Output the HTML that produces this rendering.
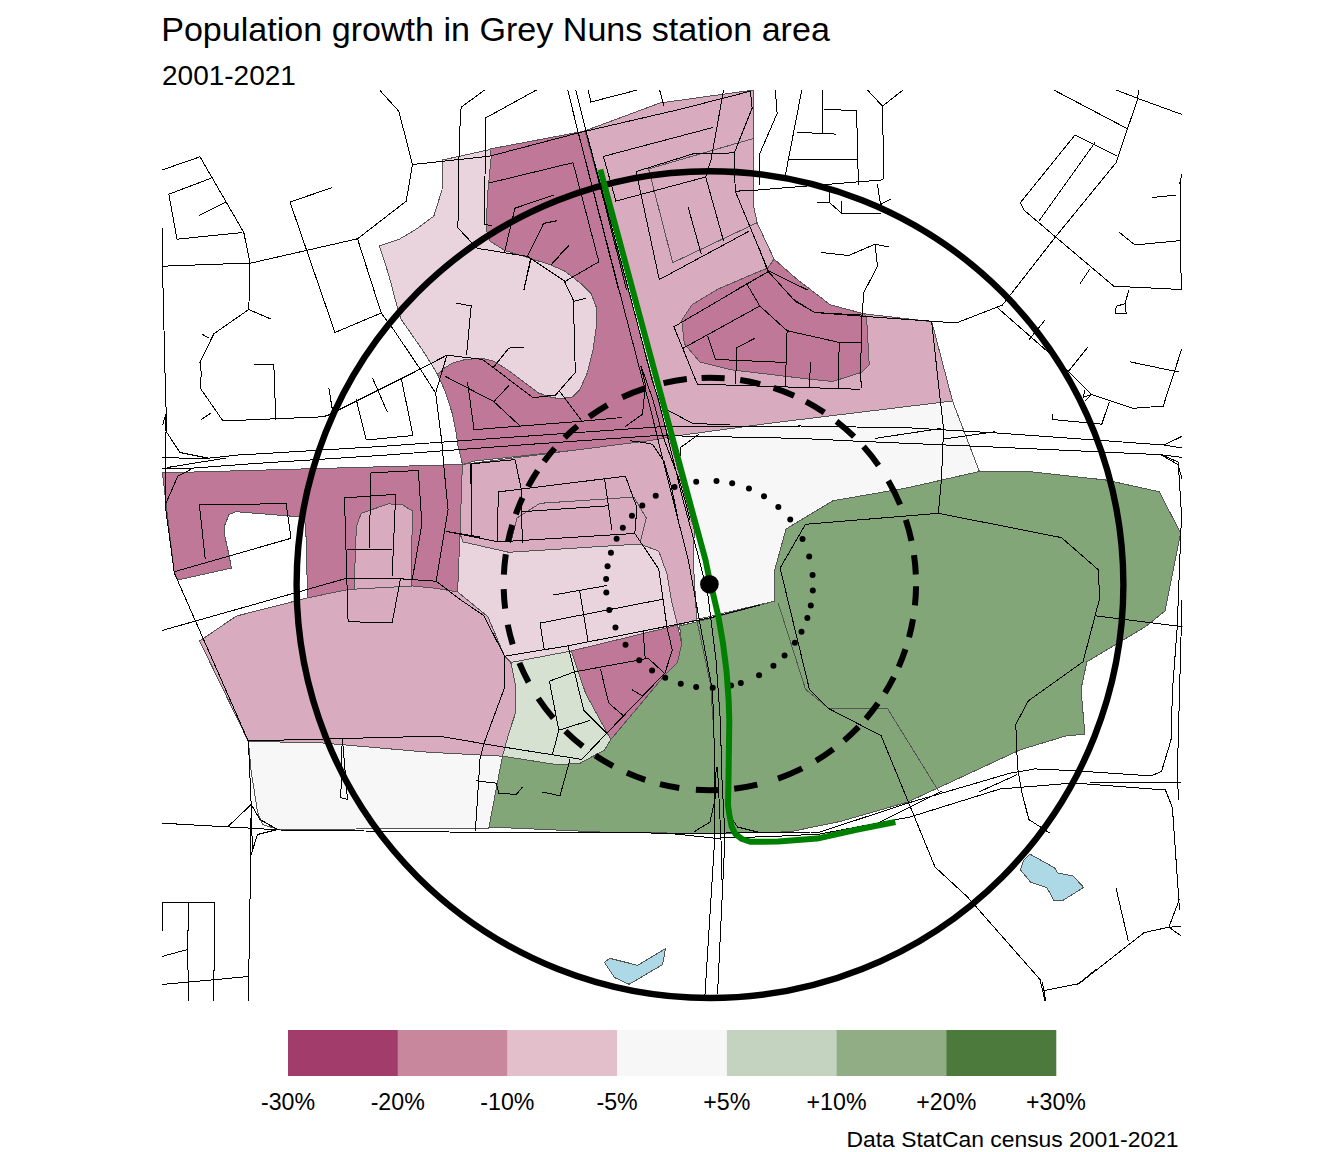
<!DOCTYPE html>
<html><head><meta charset="utf-8"><style>
html,body{margin:0;padding:0;background:#fff;}
body{width:1344px;height:1152px;overflow:hidden;position:relative;}
svg{position:absolute;left:0;top:0;}
text{font-family:"Liberation Sans",Arial,sans-serif;fill:#000;}
.lt{font-size:23.2px;}
</style></head><body>
<svg width="1344" height="1152" viewBox="0 0 1344 1152">
<text x="161.2" y="41" style="font-size:34.1px">Population growth in Grey Nuns station area</text>
<text x="162" y="85" style="font-size:28px">2001-2021</text>
<text x="1178.6" y="1146.5" text-anchor="end" style="font-size:22.9px">Data StatCan census 2001-2021</text>
<defs><clipPath id="mc"><rect x="162" y="90" width="1020.5" height="911"/></clipPath></defs>
<g clip-path="url(#mc)">
<polygon points="490.0,149.0 585.0,131.0 669.0,440.0 650.0,442.0 475.0,461.0 462.5,464.5 458.0,446.0 456.0,432.0 452.5,414.0 445.0,391.0 437.5,374.4 480.0,300.0 486.0,230.0 487.5,195.0" fill="#c07898" stroke="#555555" stroke-width="1" shape-rendering="crispEdges"/>
<polygon points="490.0,149.5 442.5,160.0 442.0,190.0 433.8,216.2 415.0,230.0 399.0,239.4 379.4,245.9 388.8,275.0 396.2,303.1 400.9,319.0 409.4,331.2 422.5,350.0 431.9,365.0 437.5,374.4 443.1,368.8 452.5,363.1 465.6,359.4 482.5,358.4 493.8,361.2 508.8,370.6 523.8,381.9 538.8,393.1 550.0,396.9 559.4,398.8 572.5,396.9 580.0,389.4 587.5,372.5 593.1,350.0 596.0,329.4 596.9,308.8 591.2,293.8 581.9,284.4 565.0,271.2 550.0,264.7 529.4,258.1 505.0,250.6 490.0,241.2 486.2,230.0 487.5,195.0 491.2,157.5" fill="#e9d3dc" stroke="#555555" stroke-width="1" shape-rendering="crispEdges"/>
<polygon points="585.0,130.8 660.0,103.0 753.8,90.0 753.8,207.5 757.5,223.8 774.1,259.1 796.2,278.6 830.1,304.7 864.0,313.8 931.7,321.6 952.5,401.0 770.2,423.2 673.9,436.2" fill="#d9abbe" stroke="#555555" stroke-width="1" shape-rendering="crispEdges"/>
<polygon points="774.1,259.1 796.2,278.6 830.1,304.7 864.0,313.8 866.6,317.7 869.2,364.6 861.4,372.4 832.7,381.5 806.7,378.9 775.4,375.0 731.1,369.8 699.9,362.0 684.3,343.8 681.7,320.3 692.1,304.7 718.1,289.0 754.6,273.4 767.6,268.2" fill="#c07898" stroke="#555555" stroke-width="1" shape-rendering="crispEdges"/>
<polygon points="162.4,472.9 462.4,464.5 460.0,533.6 457.6,591.9 436.2,588.3 412.4,586.0 348.1,589.5 307.6,597.9 305.7,524.0 300.5,516.9 236.2,511.7 229.0,514.5 224.3,526.4 224.8,536.0 229.0,555.0 231.4,568.1 177.9,580.0 174.3,572.9" fill="#c07898" stroke="#555555" stroke-width="1" shape-rendering="crispEdges"/>
<polygon points="361.2,513.3 388.6,503.8 402.9,505.0 412.4,511.0 411.2,586.0 354.0,589.5 356.4,526.4" fill="#d9abbe" stroke="#555555" stroke-width="1" shape-rendering="crispEdges"/>
<polygon points="673.9,436.2 770.2,423.2 952.5,401.0 979.4,471.5 907.1,487.9 832.9,500.8 786.0,529.0 774.2,572.0 774.2,601.2 700.0,618.8 696.2,617.9 692.1,565.8 685.8,524.2 677.5,488.8 669.2,467.9 660.8,451.2 654.6,443.3" fill="#f7f7f7" stroke="#555555" stroke-width="1" shape-rendering="crispEdges"/>
<polygon points="462.4,464.5 648.3,440.8 669.3,437.2 694.3,530.0 693.2,560.0 696.7,619.7 677.5,625.2 671.2,599.2 667.1,574.2 658.8,551.2 640.0,544.0 508.8,552.3 462.9,541.9 460.0,533.6" fill="#d9abbe" stroke="#555555" stroke-width="1" shape-rendering="crispEdges"/>
<polygon points="462.9,541.9 508.8,552.3 640.0,544.0 658.8,551.2 667.1,574.2 671.2,599.2 677.5,625.2 571.2,651.0 510.8,662.5 504.6,656.2 487.9,616.7 457.6,591.9 460.0,533.6" fill="#e9d3dc" stroke="#555555" stroke-width="1" shape-rendering="crispEdges"/>
<polygon points="199.6,641.0 236.3,616.1 307.6,597.9 348.1,589.5 412.4,586.0 436.2,588.3 457.6,591.9 487.9,616.7 504.6,656.2 510.8,662.5 516.0,687.5 515.0,714.6 508.8,733.3 502.5,756.2 427.9,752.2 320.7,742.8 248.4,741.4" fill="#d9abbe" stroke="#555555" stroke-width="1" shape-rendering="crispEdges"/>
<polygon points="248.4,741.4 320.7,742.8 427.9,752.2 502.5,756.2 489.0,827.0 488.2,828.5 277.9,829.3 262.5,824.5 257.5,812.0 251.0,770.0" fill="#f7f7f7" stroke="#555555" stroke-width="1" shape-rendering="crispEdges"/>
<polygon points="510.8,662.5 571.2,651.0 585.8,693.8 610.8,739.6 604.6,750.0 579.6,763.5 556.7,764.6 502.5,756.2 508.8,733.3 515.0,714.6 516.0,687.5" fill="#d6e1d2" stroke="#555555" stroke-width="1" shape-rendering="crispEdges"/>
<polygon points="571.2,651.0 677.5,625.2 681.7,643.8 677.5,662.5 665.0,675.0 610.8,739.6 585.8,693.8" fill="#c07898" stroke="#555555" stroke-width="1" shape-rendering="crispEdges"/>
<polygon points="489.0,827.0 502.5,756.2 556.7,764.6 579.6,763.5 604.6,750.0 610.8,739.6 665.0,675.0 677.5,662.5 681.7,643.8 679.6,626.0 712.9,617.7 774.2,601.2 774.2,572.0 786.0,529.0 832.9,500.8 907.1,487.9 979.4,471.5 1028.3,471.5 1106.4,480.1 1159.2,491.8 1180.6,532.9 1165.0,611.0 1145.5,626.6 1086.9,661.8 1081.0,689.2 1084.9,734.1 1065.4,736.1 1020.4,749.7 965.7,775.1 907.0,802.3 840.0,821.5 789.9,831.8 739.1,833.0 700.0,833.5 600.0,832.0" fill="#83a679" stroke="#555555" stroke-width="1" shape-rendering="crispEdges"/>
<polygon points="1030.1,854.2 1054.7,867.9 1057.8,873.0 1073.4,876.1 1083.6,887.4 1062.5,900.7 1053.9,900.3 1046.9,887.8 1030.5,882.0 1020.3,869.8 1023.4,860.5" fill="#add8e6" stroke="#555555" stroke-width="1" shape-rendering="crispEdges"/>
<polygon points="604.5,962.4 609.7,958.3 637.6,965.3 665.5,948.6 662.5,964.6 629.1,984.3 614.6,977.6" fill="#add8e6" stroke="#555555" stroke-width="1" shape-rendering="crispEdges"/>
<g fill="none" stroke="#555555" stroke-width="1" shape-rendering="crispEdges">
<polyline points="648.6,168.9 672.7,262.7 757.5,222.5"/>
<polyline points="648.6,168.9 753.0,138.6"/>
<polyline points="510.8,542.9 517.1,517.9 540.0,503.3 633.8,497.1 646.2,517.9 640.0,542.9"/>
<polyline points="693.2,560.0 696.7,619.7 710.6,685.0 713.0,720.0"/>
<polyline points="778.2,603.2 805.5,689.2 829.0,708.7 887.6,708.7 938.4,790.8"/>
</g>
<g fill="none" stroke="#000" stroke-width="1" stroke-linejoin="miter" shape-rendering="crispEdges">
<polyline points="380.0,90.5 398.8,111.2 412.5,164.5 406.2,201.2 357.5,238.8 251.2,263.0 162.5,266.2"/>
<polyline points="412.5,164.5 440.0,161.6 490.0,156.1 580.0,132.5 680.0,109.3 750.4,91.2 752.1,108.2 734.3,152.9 735.2,191.2 753.0,190.4 881.2,180.0 883.8,178.8 882.5,106.2 867.5,90.0"/>
<polyline points="357.5,238.8 381.2,313.0 335.0,332.5 290.0,202.0 332.5,187.5"/>
<polyline points="381.2,313.0 391.2,326.2 422.5,372.5"/>
<polyline points="162.0,170.0 200.0,156.8 243.8,232.5 250.0,263.0 248.8,309.5 213.8,333.8 200.0,362.5 201.2,373.0 200.5,388.5 223.0,421.0 322.5,416.8 327.5,415.5"/>
<polyline points="211.2,178.2 168.8,194.2 177.0,239.2 242.5,232.5"/>
<polyline points="226.2,202.0 198.8,215.5"/>
<polyline points="248.8,309.5 271.2,319.2"/>
<polyline points="202.5,334.5 208.8,338.0"/>
<polyline points="253.8,364.5 273.8,364.5 275.8,420.0"/>
<polyline points="162.5,228.0 162.5,266.2 165.0,372.5 166.2,413.0 162.5,425.5"/>
<polyline points="484.6,90.0 461.1,107.3 459.3,137.7 457.9,227.9 472.1,243.0 477.5,248.4 527.5,256.4 565.0,281.4 598.9,261.8 573.0,162.7 489.1,183.0"/>
<polyline points="536.4,90.0 485.5,118.0 484.6,224.3 491.8,226.0"/>
<polyline points="567.7,90.0 578.4,133.2 618.6,290.0"/>
<polyline points="575.7,90.0 586.4,132.3 626.6,290.0"/>
<polyline points="588.2,90.0 590.9,102.0 637.3,90.0"/>
<polyline points="659.6,90.0 664.1,106.4"/>
<polyline points="712.9,127.5 603.4,156.4 615.9,201.1 705.7,177.0 723.6,241.2"/>
<polyline points="723.6,90.0 711.0,160.0 705.7,177.0"/>
<polyline points="734.3,152.9 693.2,153.8 636.1,171.6 659.3,279.6 748.6,231.4"/>
<polyline points="515.0,208.2 554.3,194.8"/>
<polyline points="515.0,208.2 504.3,252.9"/>
<polyline points="557.0,220.7 543.6,223.4 527.5,256.4"/>
<polyline points="568.6,245.7 550.7,265.4"/>
<polyline points="531.0,259.1 523.9,290.0"/>
<polyline points="687.9,206.4 701.2,253.8"/>
<polyline points="735.2,191.2 768.2,270.7 807.5,290.0"/>
<polyline points="775.4,90.0 777.1,113.6 759.3,154.6 759.3,185.0"/>
<polyline points="801.8,90.0 785.2,176.0"/>
<polyline points="787.9,159.1 858.4,159.1"/>
<polyline points="822.7,90.0 822.7,133.2"/>
<polyline points="796.8,132.3 836.1,134.1"/>
<polyline points="824.5,109.1 856.6,110.9 858.4,185.0"/>
<polyline points="882.5,106.2 903.0,90.0"/>
<polyline points="877.5,184.5 880.5,204.5 891.2,198.8"/>
<polyline points="816.2,202.0 829.5,202.5 841.2,213.0 881.2,213.0"/>
<polyline points="841.2,201.2 841.2,213.0"/>
<polyline points="829.5,202.5 829.5,190.0"/>
<polyline points="821.2,252.5 848.8,255.5 875.0,244.2 888.8,247.0"/>
<polyline points="875.0,244.2 877.5,266.2 863.8,292.5 862.0,316.2 860.5,372.5 861.4,388.0"/>
<polyline points="795.0,301.2 815.0,312.5 862.0,316.2 932.0,321.2 956.2,323.0 1002.5,305.0 1055.0,237.5 1116.2,162.5 1127.5,128.8 1137.0,101.2 1138.8,90.0"/>
<polyline points="1053.8,90.0 1127.5,128.8"/>
<polyline points="1116.2,90.0 1138.8,98.8 1182.0,114.5"/>
<polyline points="1117.5,156.2 1075.0,135.0 1020.5,202.5 1023.8,210.0 1113.8,286.2 1181.2,289.5 1180.0,182.5 1182.0,173.8"/>
<polyline points="1095.0,142.5 1038.8,221.2"/>
<polyline points="1090.0,268.8 1080.0,283.8"/>
<polyline points="1152.5,197.5 1176.2,195.0"/>
<polyline points="1119.5,232.5 1135.0,245.0 1181.2,240.5"/>
<polyline points="1128.8,290.0 1125.0,303.8 1116.2,306.2 1115.5,313.8 1126.2,313.8 1125.0,303.8"/>
<polyline points="1028.8,340.0 1045.0,320.0"/>
<polyline points="1067.5,372.5 1087.5,347.5"/>
<polyline points="1129.7,361.8 1179.0,372.1"/>
<polyline points="931.7,321.6 939.1,390.0 943.6,428.7 941.4,480.0 938.4,513.3"/>
<polyline points="736.0,290.0 768.2,271.6"/>
<polyline points="768.2,271.6 673.9,326.8 697.3,384.1 860.0,389.3"/>
<polyline points="759.8,250.0 767.6,270.8 793.6,299.5 814.5,312.5 862.7,315.1"/>
<polyline points="746.8,283.9 759.8,306.0 787.1,330.7 839.2,342.4 861.4,342.4"/>
<polyline points="681.7,349.0 759.8,306.0"/>
<polyline points="707.7,336.0 715.5,359.4 785.8,362.5"/>
<polyline points="754.6,338.5 736.4,347.7 735.8,384.1"/>
<polyline points="787.1,330.7 785.3,386.7"/>
<polyline points="810.6,362.0 809.3,386.7"/>
<polyline points="839.2,342.4 838.4,388.0"/>
<polyline points="162.0,457.4 183.8,458.2 208.8,458.2 237.7,455.0 258.0,453.9 380.0,446.5 540.0,435.2 657.0,427.0 800.0,426.0 911.6,428.0 1000.0,433.2 1164.1,445.0 1182.0,448.0"/>
<polyline points="162.0,468.6 189.2,468.4 258.0,463.3 380.0,455.5 540.0,443.6 657.0,435.5 800.0,438.4 859.5,441.3 1000.0,447.3 1161.0,454.7 1182.0,457.4"/>
<polyline points="1164.1,445.0 1182.0,436.3"/>
<polyline points="1161.0,454.7 1178.2,464.8 1182.0,479.0"/>
<polyline points="875.1,438.4 941.4,428.4"/>
<polyline points="942.9,439.1 995.0,431.7"/>
<polyline points="166.2,413.0 165.5,430.5 180.0,452.5 207.5,458.0"/>
<polyline points="226.2,458.0 167.5,467.5"/>
<polyline points="327.5,415.5 412.5,373.0 446.9,355.2 482.5,359.4 533.1,397.8 555.6,395.0 575.3,372.5 573.4,300.3 564.1,280.6"/>
<polyline points="574.4,301.2 585.6,298.4"/>
<polyline points="422.5,372.5 435.6,393.1 441.9,442.4 443.7,465.0 448.1,509.8 436.2,581.2 460.8,600.0 483.8,615.6 504.6,656.2 504.6,687.5 483.8,743.8 480.0,759.5 475.4,831.2"/>
<polyline points="435.6,393.1 446.9,355.2"/>
<polyline points="356.2,399.2 366.2,440.0 413.0,435.5 401.2,378.0"/>
<polyline points="372.5,378.0 387.5,412.5"/>
<polyline points="328.8,388.0 332.5,410.5"/>
<polyline points="456.2,303.1 471.2,305.9 466.6,354.7"/>
<polyline points="493.8,366.9 508.8,348.1 523.8,347.2"/>
<polyline points="530.3,260.0 523.8,290.0"/>
<polyline points="568.8,245.0 551.9,263.8"/>
<polyline points="445.0,376.2 493.8,401.6 520.0,426.0"/>
<polyline points="467.5,381.9 474.0,429.7"/>
<polyline points="493.8,401.6 508.8,385.6"/>
<polyline points="559.4,391.2 581.9,421.2"/>
<polyline points="474.0,429.7 581.9,421.2 622.0,417.5"/>
<polyline points="199.3,504.5 286.2,503.8 291.0,538.3"/>
<polyline points="199.3,504.5 205.2,558.6"/>
<polyline points="174.3,571.7 291.0,538.3"/>
<polyline points="162.4,630.4 346.6,578.3 400.5,578.8 436.2,581.2"/>
<polyline points="370.7,472.9 418.3,470.5 421.9,524.0 412.4,578.8"/>
<polyline points="370.7,472.9 369.5,547.9"/>
<polyline points="344.5,497.9 395.7,494.3 392.1,576.4"/>
<polyline points="344.5,497.9 348.1,621.7 392.1,622.9 400.5,578.8"/>
<polyline points="346.9,549.0 392.1,549.0"/>
<polyline points="445.7,531.2 480.0,537.1"/>
<polyline points="470.7,464.5 471.9,537.1"/>
<polyline points="166.2,413.0 165.8,455.0 165.2,505.0 174.3,572.9 248.4,741.4 251.1,803.0 252.4,850.0"/>
<polyline points="191.0,469.3 177.9,476.0 165.2,505.0"/>
<polyline points="471.2,463.8 515.0,459.6 521.2,488.8 522.3,542.9"/>
<polyline points="471.2,463.8 471.2,535.6"/>
<polyline points="446.2,531.5 498.3,541.9"/>
<polyline points="498.3,491.9 497.3,541.9"/>
<polyline points="498.3,491.9 625.4,476.2 636.9,507.5 634.8,533.5"/>
<polyline points="604.6,479.4 611.9,530.4"/>
<polyline points="522.3,511.7 607.7,505.8"/>
<polyline points="498.3,541.9 634.8,533.5 658.8,569.0 667.1,628.3"/>
<polyline points="553.5,595.0 606.7,585.6"/>
<polyline points="579.6,590.8 587.9,640.8"/>
<polyline points="540.0,623.1 662.9,599.2"/>
<polyline points="540.0,623.1 544.2,649.2"/>
<polyline points="625.0,426.8 642.5,414.2 645.5,385.0 640.8,365.9"/>
<polyline points="248.4,740.9 438.6,736.1 502.5,746.9 581.7,759.4 606.7,733.3 665.0,672.9 672.3,650.0 667.1,628.3"/>
<polyline points="568.1,645.8 583.8,710.4 606.7,733.3"/>
<polyline points="504.6,656.2 568.1,645.8 710.8,617.7 760.0,605.0"/>
<polyline points="342.2,738.8 340.8,797.7 347.5,799.5 342.5,740.0"/>
<polyline points="476.2,780.8 496.2,783.2 498.8,793.2 516.2,794.5 522.5,787.0"/>
<polyline points="542.5,792.0 560.0,795.8 570.0,759.5"/>
<polyline points="162.0,823.2 251.2,828.2 280.0,830.0 491.0,832.5 710.0,833.2 811.0,832.0"/>
<polyline points="667.5,833.2 715.0,838.2 773.0,836.5 820.0,834.0"/>
<polyline points="251.2,804.5 250.0,900.0 248.3,1001.0"/>
<polyline points="251.2,804.5 227.5,827.0"/>
<polyline points="251.2,804.5 260.0,819.5 277.5,829.5 257.5,834.5 251.2,854.5"/>
<polyline points="162.0,930.8 162.0,902.5 214.5,902.5 213.8,1000.8"/>
<polyline points="188.8,902.5 187.5,949.5 188.8,1000.8"/>
<polyline points="162.0,956.5 187.5,949.5"/>
<polyline points="162.0,984.5 248.8,976.5"/>
<polyline points="549.4,681.2 574.4,671.9 648.3,658.3 664.0,672.9"/>
<polyline points="643.1,631.2 645.2,658.3"/>
<polyline points="549.4,681.2 558.8,730.2 552.5,754.2"/>
<polyline points="558.8,730.2 590.0,720.4"/>
<polyline points="600.4,668.8 608.8,703.1 623.3,715.6"/>
<polyline points="631.7,689.6 642.1,695.8"/>
<polyline points="693.8,832.0 710.0,822.0 715.0,799.5 716.2,767.0"/>
<polyline points="732.5,819.5 737.5,827.0 757.5,832.0"/>
<polyline points="567.7,90.0 578.4,133.2 616.5,280.0 642.5,380.0 648.2,400.0 673.0,500.0 688.3,560.0 703.0,640.0 712.0,687.8 713.8,717.0 715.0,834.5 705.0,994.5 704.5,1001.0"/>
<polyline points="575.7,90.0 586.4,132.3 626.0,280.0 652.1,380.0 658.6,400.0 683.0,500.0 699.4,560.0 707.8,594.7 716.0,660.0 720.3,720.0 722.0,780.0 725.0,837.0 717.5,994.5 717.0,1001.0"/>
<polyline points="640.8,365.9 646.0,380.0 653.0,400.0 663.0,436.5 678.6,478.1 685.0,500.0 690.0,520.0"/>
<polyline points="717.5,767.0 721.0,840.0 722.5,899.5"/>
<polyline points="996.7,307.0 1057.2,360.0 1091.6,394.4 1132.5,408.3 1163.2,406.1 1181.8,348.8"/>
<polyline points="1085.0,389.7 1083.2,397.2 1091.6,394.4 1085.0,400.9"/>
<polyline points="1052.5,414.0 1052.5,419.5 1101.8,424.2 1109.3,401.8"/>
<polyline points="938.4,513.3 805.5,524.3 780.1,568.0 809.4,689.2 829.0,708.7 881.2,735.8 935.0,867.0 967.5,897.0 1040.0,979.5 1045.0,1000.8"/>
<polyline points="938.4,513.3 1061.5,537.6 1098.6,570.0 1099.4,599.3 1083.0,661.8 1028.3,700.9 1015.8,724.3 1017.5,767.0 1021.2,789.5 1028.8,819.5 1050.0,833.2"/>
<polyline points="1094.7,615.7 1182.6,626.7"/>
<polyline points="811.0,832.0 820.0,832.0 907.5,803.2 1010.0,773.2 1035.0,768.9 1073.9,770.7 1151.3,775.9 1161.6,771.2 1171.0,740.0 1172.5,690.0 1177.2,627.5 1181.5,515.0 1178.2,462.0 1161.0,454.7"/>
<polyline points="820.0,834.0 910.0,817.0 1000.0,789.0 1073.9,783.0 1165.4,790.0 1172.4,807.6 1179.5,909.6"/>
<polyline points="880.0,822.0 942.5,790.8"/>
<polyline points="978.8,792.0 1017.5,774.5"/>
<polyline points="1089.7,782.3 1181.2,783.0"/>
<polyline points="1182.0,600.0 1177.2,777.5 1178.8,800.0"/>
<polyline points="1179.5,899.0 1168.9,927.2 1144.3,932.5 1079.2,983.5 1044.0,990.6 1042.2,981.8"/>
<polyline points="1168.9,927.2 1181.2,936.0"/>
<polyline points="1168.9,927.2 1181.2,926.5"/>
<polyline points="1116.1,888.5 1128.4,941.3"/>
<polyline points="1044.0,990.6 1045.7,1001.0"/>
<polyline points="1077.5,984.5 1096.0,969.5"/>
<polyline points="668.2,410.4 692.5,423.4 730.0,425.0"/>
<polyline points="699.4,433.9 680.3,447.7 680.8,456.0"/>
<polyline points="630.0,440.8 638.7,441.7 652.6,444.3 664.0,461.5 671.0,485.1 678.3,520.0"/>
<polyline points="201.4,419.5 210.7,413.3"/>
</g>
</g>
<circle cx="710" cy="584.6" r="413.4" fill="none" stroke="#000" stroke-width="6.4"/>
<path d="M701.57,377.97A206.2,206.2 0 0 1 724.66,378.33M740.17,380.04A206.2,206.2 0 0 1 760.20,384.04M773.59,387.90A206.2,206.2 0 0 1 794.11,395.80M806.04,401.61A206.2,206.2 0 0 1 824.31,412.49M836.49,421.27A206.2,206.2 0 0 1 854.07,436.63M863.53,446.52A206.2,206.2 0 0 1 878.56,465.45M888.30,480.69A206.2,206.2 0 0 1 900.15,504.59M905.83,519.90A206.2,206.2 0 0 1 911.48,540.85M914.02,555.17A206.2,206.2 0 0 1 915.83,574.50M916.04,586.30A206.2,206.2 0 0 1 914.93,605.42M913.04,619.12A206.2,206.2 0 0 1 909.06,637.24M905.47,649.21A206.2,206.2 0 0 1 898.68,666.84M893.79,677.19A206.2,206.2 0 0 1 884.96,692.89M877.99,703.36A206.2,206.2 0 0 1 865.90,718.78M858.57,726.83A206.2,206.2 0 0 1 844.19,740.43M833.31,749.15A206.2,206.2 0 0 1 816.01,760.77M802.12,768.40A206.2,206.2 0 0 1 778.00,778.61M757.30,784.67A206.2,206.2 0 0 1 734.21,788.76M717.91,790.04A206.2,206.2 0 0 1 695.87,789.73M679.27,787.92A206.2,206.2 0 0 1 659.98,784.08M645.30,779.84A206.2,206.2 0 0 1 626.94,772.80M613.06,766.07A206.2,206.2 0 0 1 595.31,755.46M582.82,746.43A206.2,206.2 0 0 1 565.36,731.11M553.26,718.16A206.2,206.2 0 0 1 538.25,698.34M528.58,682.28A206.2,206.2 0 0 1 519.36,662.95M512.72,644.49A206.2,206.2 0 0 1 507.72,624.75M505.12,608.57A206.2,206.2 0 0 1 503.71,589.17M503.87,574.56A206.2,206.2 0 0 1 505.81,554.20M508.01,541.84A206.2,206.2 0 0 1 512.28,524.98M515.83,514.18A206.2,206.2 0 0 1 522.53,497.81M528.06,486.68A206.2,206.2 0 0 1 537.62,470.61M544.01,461.46A206.2,206.2 0 0 1 554.76,448.11M564.58,437.66A206.2,206.2 0 0 1 577.34,426.01M589.28,416.72A206.2,206.2 0 0 1 607.36,405.08M622.28,397.32A206.2,206.2 0 0 1 645.42,388.12M663.55,383.07A206.2,206.2 0 0 1 686.84,379.09" fill="none" stroke="#000" stroke-width="6"/>
<g fill="#000"><circle cx="716.48" cy="481.04" r="3.0"/><circle cx="732.19" cy="483.32" r="3.0"/><circle cx="748.96" cy="488.62" r="3.0"/><circle cx="764.03" cy="496.33" r="3.0"/><circle cx="778.33" cy="507.00" r="3.0"/><circle cx="790.23" cy="519.53" r="3.0"/><circle cx="802.51" cy="538.90" r="3.0"/><circle cx="809.20" cy="556.52" r="3.0"/><circle cx="812.58" cy="575.03" r="3.0"/><circle cx="812.81" cy="590.60" r="3.0"/><circle cx="810.79" cy="605.60" r="3.0"/><circle cx="807.37" cy="617.96" r="3.0"/><circle cx="801.51" cy="631.70" r="3.0"/><circle cx="794.88" cy="642.81" r="3.0"/><circle cx="784.59" cy="655.53" r="3.0"/><circle cx="773.42" cy="665.70" r="3.0"/><circle cx="759.06" cy="675.16" r="3.0"/><circle cx="740.79" cy="682.96" r="3.0"/><circle cx="731.02" cy="685.54" r="3.0"/><circle cx="712.70" cy="687.75" r="3.0"/><circle cx="696.18" cy="686.94" r="3.0"/><circle cx="680.75" cy="683.73" r="3.0"/><circle cx="665.22" cy="677.85" r="3.0"/><circle cx="652.09" cy="670.42" r="3.0"/><circle cx="639.21" cy="660.27" r="3.0"/><circle cx="625.51" cy="644.78" r="3.0"/><circle cx="615.46" cy="627.52" r="3.0"/><circle cx="609.27" cy="610.11" r="3.0"/><circle cx="606.33" cy="592.51" r="3.0"/><circle cx="606.14" cy="578.97" r="3.0"/><circle cx="607.58" cy="566.28" r="3.0"/><circle cx="610.92" cy="552.77" r="3.0"/><circle cx="616.61" cy="538.66" r="3.0"/><circle cx="622.82" cy="527.74" r="3.0"/><circle cx="631.95" cy="515.76" r="3.0"/><circle cx="642.33" cy="505.56" r="3.0"/><circle cx="655.73" cy="495.86" r="3.0"/><circle cx="674.54" cy="486.88" r="3.0"/><circle cx="696.19" cy="481.66" r="3.0"/></g>
<polyline points="600.3,169.5 630.0,280.0 694.6,520.0 705.5,560.0 709.6,580.0 713.3,594.7 718.2,615.6 723.0,643.3 726.5,671.1 728.6,698.9 729.3,720.0 728.5,780.0 728.0,805.0 729.3,814.2 731.5,826.0 735.2,833.8 742.0,839.0 750.8,841.8 778.2,841.6 817.2,838.6 856.3,829.8 895.4,822.0" fill="none" stroke="#008000" stroke-width="6" stroke-linejoin="round"/>
<circle cx="709.4" cy="584.2" r="9.3" fill="#000"/>
<rect x="288.00" y="1030" width="110.01" height="46" fill="#a23c6a"/>
<rect x="397.71" y="1030" width="110.01" height="46" fill="#c8879d"/>
<rect x="507.43" y="1030" width="110.01" height="46" fill="#e2bfcb"/>
<rect x="617.14" y="1030" width="110.01" height="46" fill="#f7f7f7"/>
<rect x="726.86" y="1030" width="110.01" height="46" fill="#c3d3bf"/>
<rect x="836.57" y="1030" width="110.01" height="46" fill="#91ad86"/>
<rect x="946.29" y="1030" width="110.01" height="46" fill="#4c7a3d"/>
<text x="288.00" y="1110" text-anchor="middle" class="lt">-30%</text>
<text x="397.71" y="1110" text-anchor="middle" class="lt">-20%</text>
<text x="507.43" y="1110" text-anchor="middle" class="lt">-10%</text>
<text x="617.14" y="1110" text-anchor="middle" class="lt">-5%</text>
<text x="726.86" y="1110" text-anchor="middle" class="lt">+5%</text>
<text x="836.57" y="1110" text-anchor="middle" class="lt">+10%</text>
<text x="946.29" y="1110" text-anchor="middle" class="lt">+20%</text>
<text x="1056.00" y="1110" text-anchor="middle" class="lt">+30%</text>
</svg>
</body></html>
